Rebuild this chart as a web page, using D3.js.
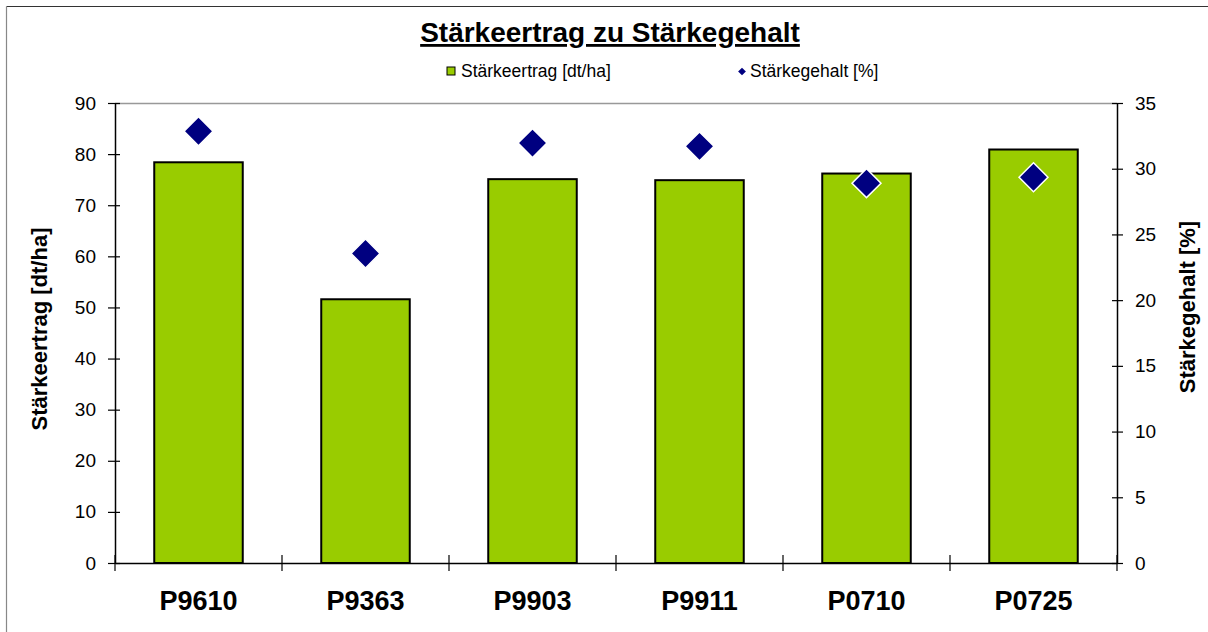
<!DOCTYPE html>
<html>
<head>
<meta charset="utf-8">
<script src="https://cdn.jsdelivr.net/npm/d3@7"></script>
<style>
body { margin:0; background:#fff; }
svg { display:block; font-family:"Liberation Sans", Arial, sans-serif; }
</style>
</head>
<body>
<div id="chart"></div>
<script>
// data
var categories = ["P9610", "P9363", "P9903", "P9911", "P0710", "P0725"];
var ertrag = [78.4, 51.6, 75.1, 74.9, 76.2, 80.9];          // Stärkeertrag [dt/ha]
var gehalt = [32.85, 23.55, 31.95, 31.7, 28.9, 29.35];      // Stärkegehalt [%]
var leftTicks = [0, 10, 20, 30, 40, 50, 60, 70, 80, 90];
var rightTicks = [0, 5, 10, 15, 20, 25, 30, 35];

var width = 1208, height = 632;
var plot = {left:115, right:1117, top:103, bottom:563};

var svg = d3.select("#chart").append("svg")
    .attr("width", width)
    .attr("height", height);

// chart frame (only top and left edges show)
svg.append("line").attr("x1", 6.5).attr("x2", width).attr("y1", 6.5).attr("y2", 6.5)
    .style("stroke", "#333").style("stroke-width", 1.2);
svg.append("line").attr("x1", 6.5).attr("x2", 6.5).attr("y1", 6.5).attr("y2", height)
    .style("stroke", "#888").style("stroke-width", 1.2);

var x = d3.scaleBand()
    .domain(categories)
    .range([plot.left, plot.right]);

var yLeft = d3.scaleLinear()
    .domain([0, 90])
    .range([plot.bottom, plot.top]);

var yRight = d3.scaleLinear()
    .domain([0, 35])
    .range([plot.bottom, plot.top]);

// plot area top border
svg.append("line")
    .attr("x1", plot.left).attr("x2", plot.right)
    .attr("y1", plot.top + 0.5).attr("y2", plot.top + 0.5)
    .style("stroke", "#999").style("stroke-width", 1.5);

// bars
var barW = x.bandwidth() * 0.53;
svg.selectAll(".bar")
    .data(ertrag)
    .enter()
    .append("rect")
    .attr("class", "bar")
    .attr("x", (d, i) => x(categories[i]) + (x.bandwidth() - barW) / 2)
    .attr("y", d => yLeft(d))
    .attr("width", barW)
    .attr("height", d => yLeft(0) - yLeft(d))
    .style("fill", "#99CC00")
    .style("stroke", "#000")
    .style("stroke-width", 2);

// left axis
var gL = svg.append("g")
    .attr("transform", "translate(" + plot.left + ",0)")
    .call(d3.axisLeft(yLeft).tickValues(leftTicks).tickSize(7).tickPadding(12).tickSizeOuter(0));
gL.select(".domain").style("stroke", "#000").style("stroke-width", 1.5);
gL.selectAll(".tick line").attr("x1", 5).style("stroke-width", 1.2);
gL.selectAll(".tick text").style("font-size", "19px").style("fill", "#000")
    .style("font-family", "Liberation Sans, Arial, sans-serif");

// right axis
var gR = svg.append("g")
    .attr("transform", "translate(" + plot.right + ",0)")
    .call(d3.axisRight(yRight).tickValues(rightTicks).tickSize(6).tickPadding(12).tickSizeOuter(0));
gR.select(".domain").style("stroke", "#000").style("stroke-width", 1.5);
gR.selectAll(".tick line").attr("x1", -5).style("stroke-width", 1.2);
gR.selectAll(".tick text").style("font-size", "19px").style("fill", "#000")
    .style("font-family", "Liberation Sans, Arial, sans-serif");

// category axis
var gX = svg.append("g")
    .attr("transform", "translate(0," + plot.bottom + ")")
    .call(d3.axisBottom(x).tickSize(0).tickPadding(28).tickSizeOuter(0));
gX.select(".domain").style("stroke", "#000").style("stroke-width", 1.5);
gX.selectAll(".tick text")
    .style("font-size", "27px").style("font-weight", "bold").style("fill", "#000")
    .style("font-family", "Liberation Sans, Arial, sans-serif");
var bounds = categories.map(c => x(c)).concat([plot.right]);
gX.selectAll(".sep")
    .data(bounds)
    .enter()
    .append("line")
    .attr("class", "sep")
    .attr("x1", d => d).attr("x2", d => d)
    .attr("y1", -8).attr("y2", 8)
    .style("stroke", "#000").style("stroke-width", 1.2);

// diamonds on right scale
var diamond = d3.symbol().type(d3.symbolSquare).size(420);
svg.selectAll(".pt")
    .data(gehalt)
    .enter()
    .append("path")
    .attr("class", "pt")
    .attr("d", diamond)
    .attr("transform", (d, i) => "translate(" + (x(categories[i]) + x.bandwidth() / 2) + "," + yRight(d) + ") rotate(45)")
    .style("fill", "#000080")
    .style("stroke", "#fff")
    .style("stroke-width", 1.5);

// title
svg.append("text")
    .attr("x", 610)
    .attr("y", 42)
    .attr("text-anchor", "middle")
    .style("font-size", "28px")
    .style("font-weight", "bold")
    .style("text-decoration", "underline")
    .text("Stärkeertrag zu Stärkegehalt");

// legend
svg.append("rect")
    .attr("x", 447).attr("y", 67).attr("width", 8).attr("height", 8)
    .style("fill", "#99CC00").style("stroke", "#000").style("stroke-width", 1);
svg.append("text")
    .attr("x", 461).attr("y", 77)
    .style("font-size", "17.5px")
    .text("Stärkeertrag [dt/ha]");
svg.append("path")
    .attr("d", d3.symbol().type(d3.symbolSquare).size(30))
    .attr("transform", "translate(742,71.5) rotate(45)")
    .style("fill", "#000080");
svg.append("text")
    .attr("x", 750).attr("y", 77)
    .style("font-size", "17.5px")
    .text("Stärkegehalt [%]");

// axis titles
svg.append("text")
    .attr("transform", "translate(47,329) rotate(-90)")
    .attr("text-anchor", "middle")
    .style("font-size", "22px")
    .style("font-weight", "bold")
    .text("Stärkeertrag [dt/ha]");
svg.append("text")
    .attr("transform", "translate(1195,307) rotate(-90)")
    .attr("text-anchor", "middle")
    .style("font-size", "22px")
    .style("font-weight", "bold")
    .text("Stärkegehalt [%]");
</script>
</body>
</html>
